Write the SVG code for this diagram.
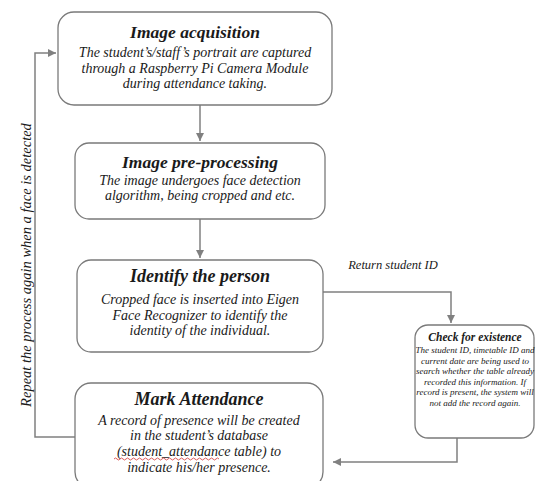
<svg xmlns="http://www.w3.org/2000/svg" width="537" height="481" viewBox="0 0 537 481">
<style>
.box{fill:#fff;stroke:#7a7a7a;stroke-width:1.3}
.t{font-family:"Liberation Serif","DejaVu Serif",serif;font-style:italic;font-weight:bold;fill:#1a1a1a;text-anchor:middle}
.b{font-family:"Liberation Serif","DejaVu Serif",serif;font-style:italic;fill:#1a1a1a;text-anchor:middle}
.c{fill:none;stroke:#808080;stroke-width:1.5}
</style>
<defs>
<marker id="ah" markerWidth="10" markerHeight="10" refX="8" refY="4" orient="auto" markerUnits="userSpaceOnUse">
<path d="M0,0 L8,4 L0,8 Z" fill="#808080"/>
</marker>
</defs>
<rect width="537" height="481" fill="#fff"/>
<g id="connectors">
<path class="c" d="M200,105 V141" marker-end="url(#ah)"/>
<path class="c" d="M200,219 V258" marker-end="url(#ah)"/>
<path class="c" d="M323,292 H451 V323" marker-end="url(#ah)"/>
<path class="c" d="M457,438 V462 H333" marker-end="url(#ah)"/>
<path class="c" d="M75,437 H35 V53 H56" marker-end="url(#ah)"/>
<text class="b" x="393" y="269" font-size="12.5">Return student ID</text>
<text class="b" transform="translate(31,265) rotate(-90)" font-size="14.5">Repeat the process again when a face is detected</text>
</g>
<g id="image-acquisition">
<rect class="box" x="58" y="12" width="274" height="93" rx="16"/>
<text class="t" x="195" y="38" font-size="17.5">Image acquisition</text>
<text class="b" x="195" y="57" font-size="14">The student’s/staff’s portrait are captured</text>
<text class="b" x="195" y="72.5" font-size="14">through a Raspberry Pi Camera Module</text>
<text class="b" x="195" y="88" font-size="14">during attendance taking.</text>
</g>
<g id="image-preprocessing">
<rect class="box" x="75" y="143" width="250" height="76" rx="14"/>
<text class="t" x="200" y="168" font-size="17.5">Image pre-processing</text>
<text class="b" x="200" y="185" font-size="14">The image undergoes face detection</text>
<text class="b" x="200" y="200" font-size="14">algorithm, being cropped and etc.</text>
</g>
<g id="identify-person">
<rect class="box" x="77" y="260" width="246" height="92" rx="14"/>
<text class="t" x="200" y="282" font-size="18">Identify the person</text>
<text class="b" x="200" y="304" font-size="14">Cropped face is inserted into Eigen</text>
<text class="b" x="200" y="320" font-size="14">Face Recognizer to identify the</text>
<text class="b" x="200" y="335" font-size="14">identity of the individual.</text>
</g>
<g id="check-existence">
<rect class="box" x="415" y="325" width="119" height="113" rx="13"/>
<text class="t" x="475" y="341" font-size="11.5">Check for existence</text>
<text class="b" x="475" y="353" font-size="9">The student ID, timetable ID and</text>
<text class="b" x="475" y="363.5" font-size="9">current date are being used to</text>
<text class="b" x="475" y="374" font-size="9">search whether the table already</text>
<text class="b" x="475" y="384.5" font-size="9">recorded this information. If</text>
<text class="b" x="475" y="395" font-size="9">record is present, the system will</text>
<text class="b" x="475" y="405.5" font-size="9">not add the record again.</text>
</g>
<g id="mark-attendance">
<rect class="box" x="75" y="383" width="248" height="105" rx="16"/>
<text class="t" x="199" y="405" font-size="18">Mark Attendance</text>
<text class="b" x="199" y="425" font-size="14">A record of presence will be created</text>
<text class="b" x="199" y="440" font-size="14">in the student’s database</text>
<text class="b" x="199" y="456" font-size="14">(student_attendance table) to</text>
<text class="b" x="199" y="472" font-size="14">indicate his/her presence.</text>
<path d="M114,459 q1.5,-2 3,0 t3,0 t3,0 t3,0 t3,0 t3,0 t3,0 t3,0 t3,0 t3,0 t3,0 t3,0 t3,0 t3,0 t3,0 t3,0 t3,0 t3,0 t3,0 t3,0 t3,0 t3,0 t3,0 t3,0 t3,0 t3,0 t3,0 t3,0 t3,0 t3,0 t3,0 t3,0 t3,0 t3,0 t3,0" fill="none" stroke="#d03030" stroke-width="0.8"/>
</g>
</svg>
